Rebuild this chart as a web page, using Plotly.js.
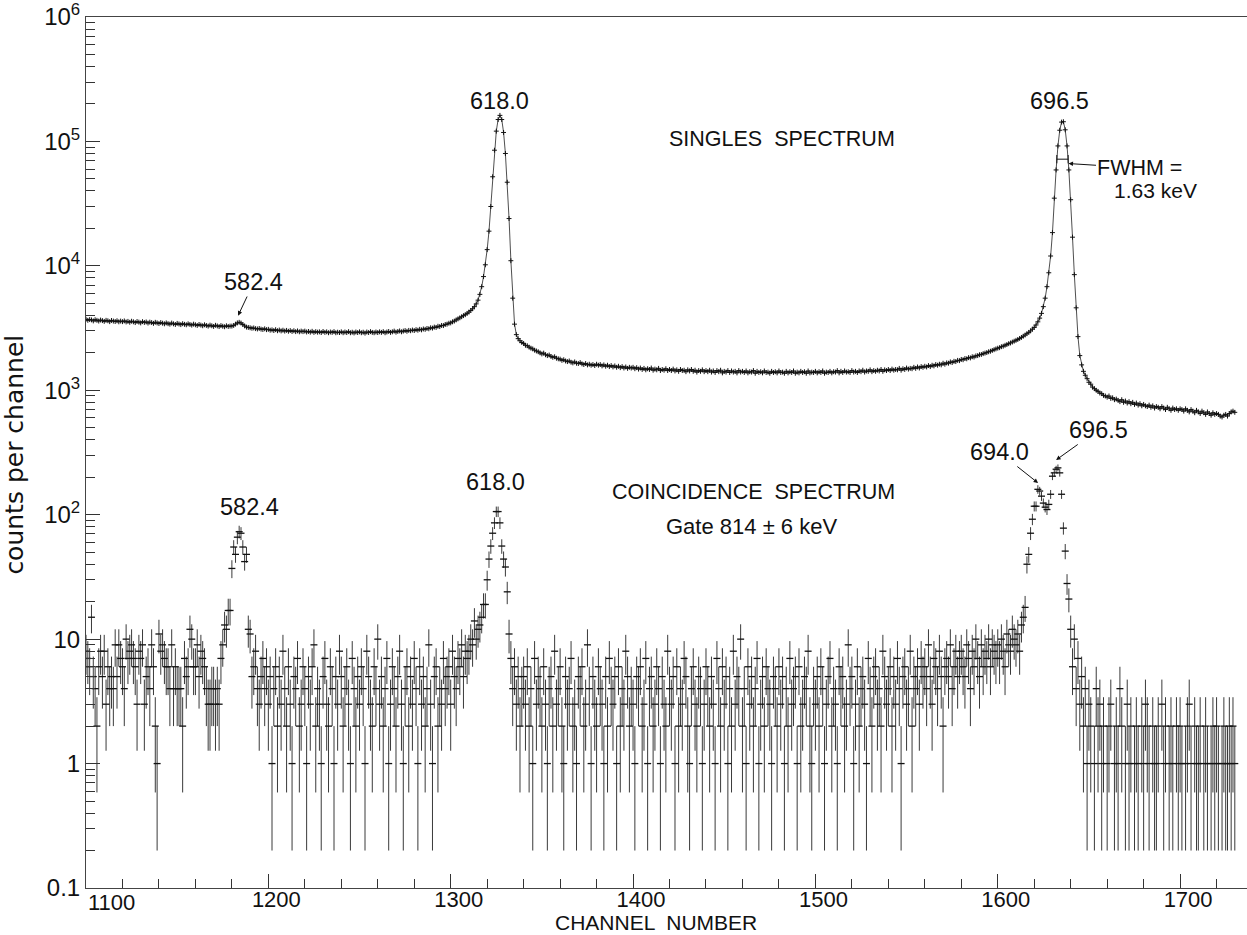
<!DOCTYPE html>
<html>
<head>
<meta charset="utf-8">
<script src="https://cdn.plot.ly/plotly-3.0.1.min.js"></script>
<style>html,body{margin:0;padding:0;background:#fff;}#chart{width:1247px;height:935px;}</style>
</head>
<body>
<div id="chart"></div>
<script>
// ---- DATA ----
const firstChannel = 1100;

// singles spectrum: counts per channel, channels 1100..1730
const singlesCounts = [
  3720,3650,3700,3680,3610,3690,3650,3600,3670,3630,3580,3650,3620,3560,3640,3600,3570,3620,3550,3600,
  3560,3610,3540,3580,3520,3590,3550,3500,3570,3530,3480,3560,3510,3540,3470,3530,3500,3450,3520,3480,
  3440,3500,3460,3420,3480,3430,3400,3470,3420,3380,3450,3410,3370,3430,3390,3360,3420,3380,3340,3400,
  3360,3320,3380,3340,3300,3360,3320,3280,3340,3300,3260,3330,3290,3250,3310,3270,3240,3300,3260,3280,
  3280,3320,3400,3480,3520,3470,3380,3290,3220,3200,3180,3150,3170,3130,3110,3140,3100,3080,3120,3070,
  3090,3040,3060,3020,3070,3010,3050,3000,3040,2990,3030,2980,3020,2970,3010,2960,3000,2950,2990,2960,
  2990,2940,2970,2930,2980,2920,2960,2930,2950,2910,2970,2920,2950,2900,2940,2920,2960,2900,2930,2910,
  2950,2900,2940,2910,2960,2900,2930,2890,2940,2910,2950,2900,2930,2880,2940,2910,2960,2920,2900,2940,
  2910,2950,2920,2960,2900,2940,2970,2920,2950,2990,2930,2970,3000,2950,2990,3020,2980,3030,3010,3050,
  3020,3070,3040,3090,3060,3110,3090,3140,3120,3180,3160,3220,3200,3270,3250,3320,3310,3380,3400,3460,
  3480,3550,3600,3680,3750,3820,3900,3980,4050,4150,4250,4380,4520,4700,4950,5300,5900,6800,8200,10200,
  13500,19000,30000,52000,85000,121000,150000,162000,150000,118000,80000,47000,24000,11000,5500,3400,2800,2600,2500,2420,
  2380,2300,2280,2220,2180,2150,2100,2070,2040,2000,1960,1990,1930,1900,1920,1870,1840,1860,1810,1790,
  1780,1740,1760,1720,1700,1720,1680,1660,1690,1650,1640,1670,1630,1610,1640,1600,1620,1590,1610,1580,
  1620,1590,1610,1570,1600,1560,1590,1550,1580,1540,1570,1530,1560,1520,1550,1510,1540,1500,1530,1510,
  1530,1490,1520,1480,1510,1470,1500,1460,1490,1470,1510,1450,1480,1460,1500,1440,1470,1450,1490,1440,
  1470,1440,1480,1430,1460,1420,1470,1440,1450,1410,1460,1430,1470,1420,1450,1400,1440,1420,1460,1410,
  1440,1410,1450,1400,1430,1390,1440,1410,1450,1380,1420,1400,1440,1390,1430,1400,1420,1380,1440,1400,
  1420,1390,1430,1380,1410,1400,1440,1370,1420,1390,1410,1380,1430,1390,1400,1370,1420,1390,1410,1380,
  1430,1390,1400,1370,1420,1380,1410,1390,1430,1370,1400,1380,1420,1390,1410,1370,1430,1380,1400,1390,
  1420,1380,1410,1390,1430,1370,1400,1390,1420,1380,1410,1400,1440,1380,1420,1390,1430,1400,1410,1390,
  1440,1400,1420,1390,1430,1410,1450,1400,1430,1420,1460,1410,1440,1420,1450,1430,1470,1420,1460,1440,
  1470,1440,1480,1450,1470,1460,1500,1450,1490,1470,1510,1480,1500,1490,1530,1500,1540,1510,1550,1530,
  1560,1540,1580,1550,1590,1570,1610,1590,1620,1600,1650,1620,1660,1650,1690,1670,1710,1700,1740,1730,
  1770,1760,1800,1790,1830,1820,1860,1850,1890,1900,1930,1940,1970,1990,2010,2040,2060,2090,2120,2150,
  2180,2200,2240,2260,2300,2330,2370,2400,2440,2480,2520,2560,2610,2660,2720,2780,2850,2920,3000,3100,
  3200,3350,3550,3800,4150,4700,5500,6800,8800,12000,18500,35000,59000,92000,123000,143000,144000,124000,92000,59000,
  34000,17000,8500,4600,2700,1900,1600,1420,1320,1240,1160,1120,1060,1030,1000,980,950,940,910,900,
  880,900,860,870,840,850,830,810,840,800,820,790,810,780,800,770,790,760,780,750,
  770,750,740,760,730,750,720,740,730,710,740,720,700,730,710,690,720,700,710,690,
  710,700,680,710,690,670,700,680,660,690,670,650,680,660,640,670,650,630,660,640,
  650,640,620,610,630,640,620,650,670,680,665
];

// coincidence spectrum (gate 814 +/- 6 keV): counts per channel, channels 1100..1730 (null = no counts)
const coincCounts = [
  8,7,6,15,5,4,2,6,8,5,8,3,6,4,5,4,9,5,9,7,
  6,4,10,7,8,9,7,6,3,8,7,9,3,5,6,4,9,6,2,1,
  11,8,9,7,6,6,4,9,4,6,4,4,4,2,7,5,6,12,10,6,
  6,9,5,8,7,6,4,3,3,4,4,3,4,3,7,9,13,12,17,17,
  37,55,48,66,73,71,55,42,48,12,11,5,6,8,4,3,5,7,4,6,
  3,5,1,4,6,2,5,3,8,4,2,6,3,1,5,4,7,2,3,6,
  4,1,5,3,6,9,2,4,3,1,5,7,3,2,6,4,1,5,3,8,
  5,2,4,6,3,1,7,4,2,5,3,6,4,1,8,5,3,2,6,4,
  10,3,5,2,4,7,1,3,6,4,2,5,8,3,1,4,6,2,5,3,
  7,4,1,6,3,5,2,4,9,3,1,5,6,2,4,3,7,4,5,6,
  3,8,5,4,7,6,9,5,8,7,8,10,9,14,10,12,13,15,19,19,
  30,44,56,71,86,106,106,86,56,44,38,24,11,7,4,6,3,5,2,4,
  5,3,6,2,4,1,7,3,5,4,2,6,3,1,4,5,2,8,3,4,
  6,2,1,5,3,4,7,2,3,1,5,4,6,2,3,9,4,1,5,3,
  2,6,4,3,1,5,2,7,4,3,5,1,6,2,4,3,8,5,2,4,
  3,1,5,4,6,2,3,7,1,4,5,2,3,6,4,1,5,3,2,8,
  4,3,5,1,6,2,4,3,7,5,2,1,4,6,3,2,5,4,1,3,
  6,4,2,5,3,1,7,4,2,6,3,5,1,4,2,8,3,5,4,10,
  2,4,1,6,3,5,2,4,7,1,3,5,2,6,4,3,1,5,4,2,
  6,3,5,1,4,2,7,3,4,5,1,6,2,3,5,4,8,2,1,4,
  3,5,2,6,4,1,3,5,7,2,4,3,1,6,4,5,2,3,9,4,
  5,1,3,6,2,4,5,3,1,7,4,2,5,6,3,4,2,8,5,3,
  4,6,2,5,3,7,4,1,5,6,3,4,8,2,5,4,6,3,7,5,
  6,4,9,5,3,7,6,4,8,5,2,6,7,5,9,4,6,8,5,7,
  8,6,5,9,7,4,8,6,10,7,5,9,6,8,7,10,6,9,8,7,
  9,7,10,8,6,11,9,8,12,10,9,11,8,13,15,18,40,48,71,92,
  117,117,160,155,141,124,115,110,121,146,204,217,232,238,217,146,78,51,28,21,
  12,6,10,4,7,3,5,2,4,1,3,2,null,1,4,2,3,1,2,null,
  1,2,3,null,1,2,1,4,2,null,1,3,1,2,null,1,2,1,null,2,
  1,3,2,1,null,2,1,1,2,null,3,1,2,null,1,2,1,null,2,1,
  2,1,null,1,2,3,1,null,2,1,1,2,null,1,2,1,null,1,2,1,
  2,1,null,1,2,1,1,2,1,2,1
];

const xTickVals = [1100,1200,1300,1400,1500,1600,1700];
const yTickVals = [0.1,1,10,100,1e3,1e4,1e5,1e6];
const yTickText = ['0.1','1','10','10<sup>2</sup>','10<sup>3</sup>','10<sup>4</sup>','10<sup>5</sup>','10<sup>6</sup>'];

// ---- derived ----
// the first x label (1100) is drawn separately, nudged right clear of "0.1" as in the original
const xTickText = xTickVals.map((v, i) => i === 0 ? '' : String(v));
const singlesCh = singlesCounts.map((_, i) => firstChannel + i);
const coincCh = coincCounts.map((_, i) => firstChannel + i);
const errUp = coincCounts.map(n => n == null ? null : Math.sqrt(n));
const errDown = coincCounts.map(n => n == null ? null : Math.min(Math.sqrt(n), n - 0.2));

const yMinor = [];
for (let e = -1; e < 6; e++) for (let m = 2; m <= 9; m++) yMinor.push(m * Math.pow(10, e));

// FWHM of the 696.5 keV singles peak, from the data
let pk = -1;
for (let i = 0; i < singlesCounts.length; i++) {
  if (singlesCh[i] > 1600 && (pk < 0 || singlesCounts[i] > singlesCounts[pk])) pk = i;
}
const half = singlesCounts[pk] / 2;
let li = pk; while (singlesCounts[li - 1] >= half) li--;
let ri = pk; while (singlesCounts[ri + 1] >= half) ri++;
const xl = singlesCh[li - 1] + (half - singlesCounts[li - 1]) / (singlesCounts[li] - singlesCounts[li - 1]);
const xr = singlesCh[ri] + (singlesCounts[ri] - half) / (singlesCounts[ri] - singlesCounts[ri + 1]);
const yh = Math.log10(half);

const FONT = 'Liberation Sans, Arial, sans-serif';
const ink = '#111';

const traces = [
  {
    x: singlesCh, y: singlesCounts, type: 'scatter', mode: 'lines+markers',
    line: {color: '#222', width: 0.8},
    marker: {symbol: 'cross-thin', size: 3.5, color: ink, line: {width: 1, color: ink}},
    hoverinfo: 'skip'
  },
  {
    x: coincCh, y: coincCounts, type: 'scatter', mode: 'markers',
    marker: {symbol: 'line-ew', size: 5, color: ink, line: {width: 1.3, color: ink}},
    error_y: {type: 'data', symmetric: false, array: errUp, arrayminus: errDown,
              thickness: 1, width: 0, color: '#3a3a3a'},
    hoverinfo: 'skip'
  }
];

function label(text, x, y, size, extra) {
  return Object.assign({text: text, x: x, y: y, xref: 'x', yref: 'y', showarrow: false,
    font: {family: FONT, size: size, color: ink}}, extra || {});
}
// label whose arrow points at (tipX, tipY); text centred at (tx, ty) in axis units
function arrowLabel(text, tx, ty, tipX, tipY, size) {
  return {text: text, x: tipX, y: tipY, xref: 'x', yref: 'y', showarrow: true,
    axref: 'x', ayref: 'y', ax: tx, ay: ty, standoff: 0,
    arrowhead: 2, arrowsize: 0.9, arrowwidth: 1, arrowcolor: ink,
    font: {family: FONT, size: size, color: ink}};
}

const annotations = [
  label('618.0', 1327.0, 5.325, 23.5),
  label('696.5', 1633.6, 5.325, 23.5),
  label('SINGLES  SPECTRUM', 1481.7, 5.02, 21.5),
  arrowLabel('FWHM =', 1678.0, 4.786, xr + 0.2, yh - 0.035, 21.5),
  label('1.63 keV', 1662.6, 4.602, 21, {xanchor: 'left'}),
  arrowLabel('582.4', 1192.1, 3.87, 1183.4, 3.6, 23.5),
  label('582.4', 1189.9, 2.062, 23.5),
  label('618.0', 1324.8, 2.263, 23.5),
  label('COINCIDENCE  SPECTRUM', 1466.3, 2.183, 21.5),
  label('Gate 814 ± 6 keV', 1465.2, 1.909, 22),
  arrowLabel('694.0', 1600.7, 2.504, 1622.1, 2.255, 23.5),
  arrowLabel('696.5', 1655.0, 2.681, 1632.0, 2.44, 23.5),
  {text: String(xTickVals[0]), xref: 'paper', yref: 'paper', x: 0.0, y: -0.0165,
   xanchor: 'left', yanchor: 'middle', showarrow: false,
   font: {family: FONT, size: 22, color: ink}},
  {text: 'counts per channel', xref: 'paper', yref: 'paper', x: -0.0612, y: 0.4975,
   xanchor: 'center', yanchor: 'middle',
   textangle: -90, showarrow: false, font: {family: 'DejaVu Sans, Liberation Sans, sans-serif', size: 25, color: ink}},
  {text: 'CHANNEL  NUMBER', xref: 'paper', yref: 'paper', x: 0.491, y: -0.0395,
   xanchor: 'center', yanchor: 'middle',
   showarrow: false, font: {family: FONT, size: 21, color: ink}}
];

// FWHM marker bar (shape y values are given in data units on this log axis)
const shapes = [
  {type: 'line', xref: 'x', yref: 'y', x0: xl, x1: xr, y0: half, y1: half, line: {color: ink, width: 1}},
  {type: 'line', xref: 'x', yref: 'y', x0: xl, x1: xl, y0: half / 1.08, y1: half * 1.08, line: {color: ink, width: 1}},
  {type: 'line', xref: 'x', yref: 'y', x0: xr, x1: xr, y0: half / 1.08, y1: half * 1.08, line: {color: ink, width: 1}}
];

const layout = {
  width: 1247, height: 935,
  margin: {l: 86, r: 0, t: 17, b: 47},
  paper_bgcolor: '#fff', plot_bgcolor: '#fff',
  showlegend: false,
  font: {family: FONT, color: ink},
  xaxis: {
    range: [1100, 1100 + 1161 / 1.8235],
    tickmode: 'array', tickvals: xTickVals, ticktext: xTickText,
    ticks: 'inside', ticklen: 14, tickwidth: 1, tickcolor: '#333',
    minor: {dtick: 20, tick0: 1100, ticks: 'inside', ticklen: 9, tickwidth: 1, tickcolor: '#333', showgrid: false},
    showline: true, linecolor: '#444', linewidth: 1, mirror: true,
    showgrid: false, zeroline: false,
    ticklabelshift: 8, ticklabelstandoff: -8,
    tickfont: {family: FONT, size: 22, color: ink}
  },
  yaxis: {
    type: 'log', range: [-1, 6],
    tickmode: 'array', tickvals: yTickVals, ticktext: yTickText,
    ticks: 'inside', ticklen: 14, tickwidth: 1, tickcolor: '#333',
    minor: {tickmode: 'array', tickvals: yMinor, ticks: 'inside', ticklen: 9, tickwidth: 1, tickcolor: '#333', showgrid: false},
    showline: true, linecolor: '#444', linewidth: 1, mirror: false,
    showgrid: false, zeroline: false,
    tickfont: {family: FONT, size: 24, color: ink}
  },
  annotations: annotations,
  shapes: shapes
};

Plotly.newPlot('chart', traces, layout, {displayModeBar: false, staticPlot: true});
</script>
</body>
</html>
